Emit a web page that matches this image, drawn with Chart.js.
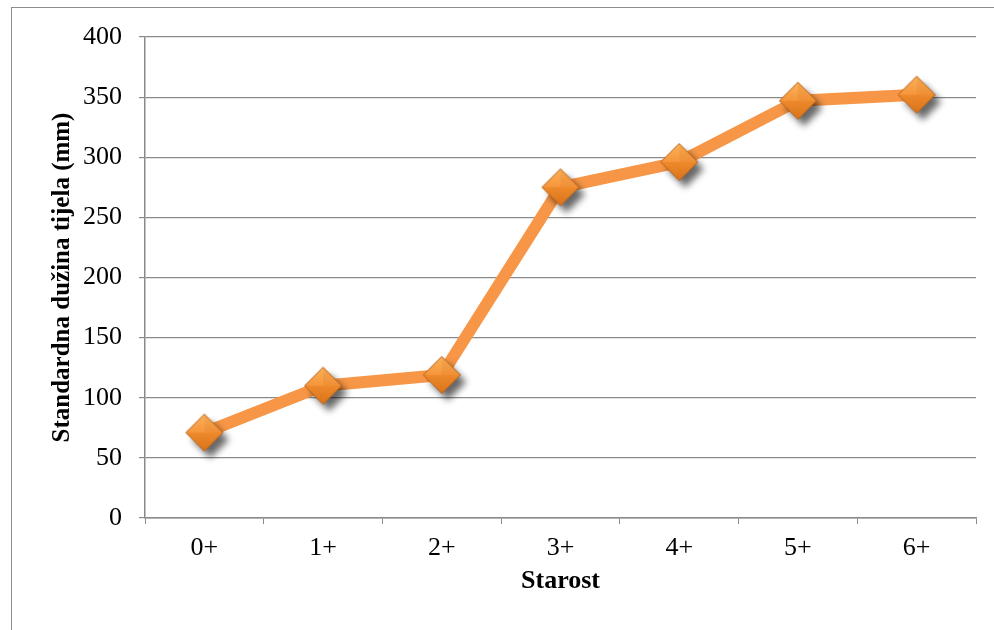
<!DOCTYPE html>
<html>
<head>
<meta charset="utf-8">
<script src="https://cdn.jsdelivr.net/npm/chart.js@4/dist/chart.umd.min.js"></script>
<style>
  html, body { margin: 0; padding: 0; background: #ffffff; overflow: hidden; }
  #wrap { position: relative; width: 994px; height: 630px; }
  #frame { position: absolute; left: 11px; top: 7px; width: 1000px; height: 700px;
           border-left: 1px solid #8c8c8c; border-top: 1px solid #8c8c8c; }
  canvas { position: absolute; left: 0; top: 0; }
</style>
</head>
<body>
<div id="wrap">
  <div id="frame"></div>
  <canvas id="chart" width="994" height="630"></canvas>
</div>
<script>
// Age classes and mean standard body length (mm)
const categories = ['0+', '1+', '2+', '3+', '4+', '5+', '6+'];
const bodyLength = [71, 110, 119, 275, 296, 347, 352];
const yTickValues = [0, 50, 100, 150, 200, 250, 300, 350, 400];

const axisTitle = 'Standardna dužina tijela (mm)';
const categoryTitle = 'Starost';

// Bevelled orange diamond marker with a soft drop shadow
function makeDiamond() {
  const size = 70, c = size / 2, r = 18.5;
  const cv = document.createElement('canvas');
  cv.width = size; cv.height = size;
  const g = cv.getContext('2d');

  // shadow
  g.save();
  g.shadowColor = 'rgba(0,0,0,0.6)';
  g.shadowBlur = 7;
  g.shadowOffsetX = 6;
  g.shadowOffsetY = 7;
  g.beginPath();
  g.moveTo(c, c - r); g.lineTo(c + r, c); g.lineTo(c, c + r); g.lineTo(c - r, c);
  g.closePath();
  g.fillStyle = '#e8842a';
  g.fill();
  g.restore();

  // upper half
  let grad = g.createLinearGradient(0, c - r, 0, c);
  grad.addColorStop(0, '#fbb25a');
  grad.addColorStop(1, '#f6963c');
  g.beginPath();
  g.moveTo(c, c - r); g.lineTo(c + r, c); g.lineTo(c - r, c); g.closePath();
  g.fillStyle = grad; g.fill();

  // slightly darker upper-right facet
  g.beginPath();
  g.moveTo(c, c - r); g.lineTo(c + r, c); g.lineTo(c, c); g.closePath();
  g.fillStyle = 'rgba(200,100,20,0.12)'; g.fill();

  // lower half
  grad = g.createLinearGradient(0, c, 0, c + r);
  grad.addColorStop(0, '#ee8a2c');
  grad.addColorStop(1, '#d9731a');
  g.beginPath();
  g.moveTo(c - r, c); g.lineTo(c + r, c); g.lineTo(c, c + r); g.closePath();
  g.fillStyle = grad; g.fill();

  // outline
  g.beginPath();
  g.moveTo(c, c - r); g.lineTo(c + r, c); g.lineTo(c, c + r); g.lineTo(c - r, c);
  g.closePath();
  g.strokeStyle = 'rgba(170,90,25,0.85)';
  g.lineWidth = 1;
  g.stroke();
  return cv;
}

const gridColor = '#8a8a8a';
const serif = '"Liberation Serif", "Times New Roman", serif';

new Chart(document.getElementById('chart'), {
  type: 'line',
  data: {
    labels: categories,
    datasets: [{
      data: bodyLength,
      borderColor: '#f79646',
      borderWidth: 12,
      borderJoinStyle: 'round',
      borderCapStyle: 'round',
      tension: 0,
      pointStyle: makeDiamond(),
      pointRadius: 18,
      fill: false,
      clip: false
    }]
  },
  options: {
    responsive: false,
    animation: false,
    events: [],
    devicePixelRatio: 1,
    layout: { autoPadding: false, padding: { left: 12, right: 18, top: 37, bottom: 10 } },
    plugins: { legend: { display: false }, tooltip: { enabled: false } },
    scales: {
      x: {
        offset: true,
        grid: {
          offset: true,
          drawOnChartArea: false,
          drawTicks: true,
          tickLength: 6,
          color: gridColor,
          lineWidth: 1
        },
        border: { display: true, color: gridColor, width: 1.5 },
        ticks: { color: '#000', font: { family: serif, size: 26 }, padding: 9 },
        title: {
          display: true, text: categoryTitle, color: '#000',
          font: { family: serif, size: 26, weight: 'bold' },
          padding: { top: 0, bottom: 23 }
        },
        afterFit: (s) => {
          s.height = 630 - 10 - 518;
          s.paddingLeft = 0;
          s.paddingRight = 0;
        }
      },
      y: {
        min: 0, max: 400,
        afterBuildTicks: (s) => { s.ticks = yTickValues.map(v => ({ value: v })); },
        grid: { color: gridColor, lineWidth: 1.2, tickLength: 6 },
        border: { display: true, color: gridColor, width: 1.5 },
        ticks: { color: '#000', font: { family: serif, size: 26 }, padding: 17 },
        title: {
          display: true, text: axisTitle, color: '#000',
          font: { family: serif, size: 25, weight: 'bold' },
          padding: { top: 36, bottom: 0 }
        },
        afterFit: (s) => { s.width = 145 - 12; }
      }
    }
  }
});
</script>
</body>
</html>
